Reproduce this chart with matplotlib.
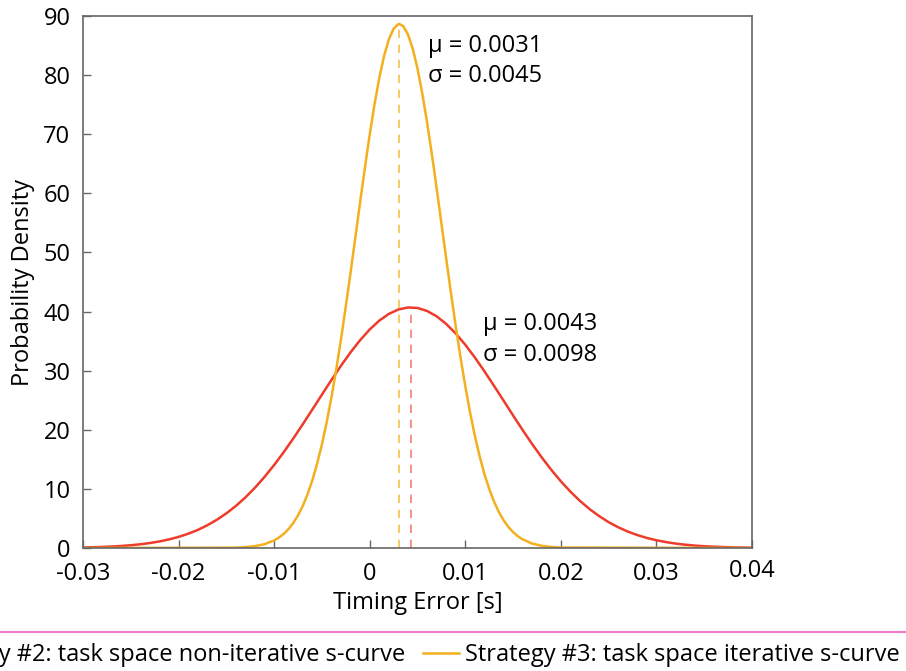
import numpy as np
import matplotlib
matplotlib.use("Agg")
from matplotlib import pyplot as plt
from matplotlib.lines import Line2D
import matplotlib.transforms as mtrans

plt.rcParams['font.family'] = ['Open Sans', 'DejaVu Sans']

# Strategy #3 (yellow) curve
x3 = [-0.03, -0.014, -0.013, -0.012, -0.011,
      -0.010, -0.0095, -0.009, -0.0085, -0.008, -0.0075, -0.007, -0.0065, -0.006, -0.0055,
      -0.005, -0.0045, -0.004, -0.0035, -0.003, -0.0025, -0.002, -0.0015, -0.001, -0.0005,
      0.000, 0.0005, 0.001, 0.0015, 0.002, 0.0025, 0.003, 0.0031, 0.0035, 0.004,
      0.0045, 0.005, 0.0055, 0.006, 0.0065, 0.007, 0.0075, 0.008, 0.0085, 0.009,
      0.0095, 0.010, 0.0105, 0.011, 0.0115, 0.012, 0.0125, 0.013, 0.0135, 0.014,
      0.0145, 0.015, 0.0155, 0.016, 0.017, 0.018, 0.019, 0.020, 0.04]
y3 = [0.0, 0.06, 0.15, 0.32, 0.65,
      1.28, 1.76, 2.39, 3.19, 4.23, 5.53, 7.14, 9.11, 11.47, 14.28,
      17.54, 21.30, 25.53, 30.23, 35.36, 40.90, 46.65, 52.58, 58.54, 64.37,
      69.93, 75.03, 79.50, 83.22, 86.04, 87.86, 88.63, 88.65, 88.30, 86.89,
      84.47, 81.10, 76.90, 72.03, 66.64, 60.89, 54.96, 49.00, 43.15, 37.53,
      32.25, 27.38, 22.94, 18.98, 15.53, 12.53, 10.00, 7.88, 6.13, 4.72,
      3.58, 2.69, 1.99, 1.46, 0.75, 0.37, 0.17, 0.08, 0.0]

# Strategy #2 (red) curve
x2 = [-0.030, -0.029, -0.028, -0.027, -0.026, -0.025, -0.024, -0.023, -0.022, -0.021,
      -0.020, -0.019, -0.018, -0.017, -0.016, -0.015, -0.014, -0.013, -0.012, -0.011,
      -0.010, -0.009, -0.008, -0.007, -0.006, -0.005, -0.004, -0.003, -0.002, -0.001,
      0.000, 0.001, 0.002, 0.003, 0.004, 0.005, 0.006, 0.007, 0.008, 0.009,
      0.010, 0.011, 0.012, 0.013, 0.014, 0.015, 0.016, 0.017, 0.018, 0.019,
      0.020, 0.021, 0.022, 0.023, 0.024, 0.025, 0.026, 0.027, 0.028, 0.029,
      0.030, 0.031, 0.032, 0.033, 0.034, 0.035, 0.036, 0.037, 0.038, 0.039, 0.040]
y2 = [0.09, 0.13, 0.18, 0.25, 0.34, 0.47, 0.63, 0.84, 1.11, 1.45,
      1.88, 2.41, 3.05, 3.84, 4.77, 5.86, 7.12, 8.57, 10.21, 12.04,
      14.04, 16.21, 18.52, 20.94, 23.43, 25.95, 28.44, 30.85, 33.11, 35.17,
      36.97, 38.47, 39.60, 40.35, 40.69, 40.61, 40.10, 39.20, 37.91, 36.29,
      34.38, 32.23, 29.90, 27.45, 24.95, 22.43, 19.96, 17.58, 15.32, 13.22,
      11.28, 9.53, 7.97, 6.59, 5.40, 4.37, 3.51, 2.78, 2.19, 1.70,
      1.31, 1.00, 0.75, 0.56, 0.41, 0.30, 0.22, 0.16, 0.11, 0.08, 0.05]

mu2, peak2 = 0.0043, 40.7
mu3, peak3 = 0.0031, 88.6

red = '#EE3B2B'
yellow = '#F2B01E'
fs = 17

fig = plt.figure(figsize=(9.06, 6.71), dpi=100)
ax = fig.add_axes([83/906, 1-548/671, (752-83)/906, (548-16)/671])

ax.plot(x2, y2, color=red, lw=1.8, label='Strategy #2: task space non-iterative s-curve')
ax.plot(x3, y3, color=yellow, lw=1.8, label='Strategy #3: task space iterative s-curve')
ax.plot([mu3, mu3], [0, peak3], color=yellow, lw=1.2, ls=(0, (5, 4)), alpha=0.8)
ax.plot([mu2, mu2], [0, peak2], color=red, lw=1.2, ls=(0, (5, 4)), alpha=0.65)

ax.text(0.0061, 84.9, u"\u03bc = 0.0031", fontsize=fs, va='center')
ax.text(0.0061, 79.8, u"\u03c3 = 0.0045", fontsize=fs, va='center')
ax.text(0.0119, 37.9, u"\u03bc = 0.0043", fontsize=fs, va='center')
ax.text(0.0119, 32.7, u"\u03c3 = 0.0098", fontsize=fs, va='center')

ax.set_xlim(-0.03, 0.04)
ax.set_ylim(0, 90)
ax.set_xticks([-0.03, -0.02, -0.01, 0, 0.01, 0.02, 0.03, 0.04])
ax.set_xticklabels(['-0.03', '-0.02', '-0.01', '0', '0.01', '0.02', '0.03', '0.04'])
ax.set_yticks(np.arange(0, 91, 10))
ax.tick_params(direction='in', length=6, width=1, color='#666666', labelsize=fs)
ax.tick_params(axis='x', pad=10)
ax.tick_params(axis='y', pad=9)
for s in ax.spines.values():
    s.set_color('#666666')
    s.set_linewidth(1.2)

# last x label sits a little higher in the original
lab = ax.get_xticklabels()[-1]
lab.set_transform(lab.get_transform() + mtrans.ScaledTranslation(0, 3/100, fig.dpi_scale_trans))

ax.set_xlabel('Timing Error [s]', fontsize=fs, labelpad=4)
ax.set_ylabel('Probability Density', fontsize=fs, labelpad=6)

fig.add_artist(Line2D([0, 1], [1-632/671, 1-632/671], color='#F07AC8', lw=1.5))
fig.legend(loc='center right', bbox_to_anchor=(900/906, 1-655/671), ncol=2, frameon=False,
           fontsize=fs, handlelength=1.55, columnspacing=0.75, handletextpad=0.25,
           borderpad=0, borderaxespad=0)

plt.savefig('out.png', dpi=100)
